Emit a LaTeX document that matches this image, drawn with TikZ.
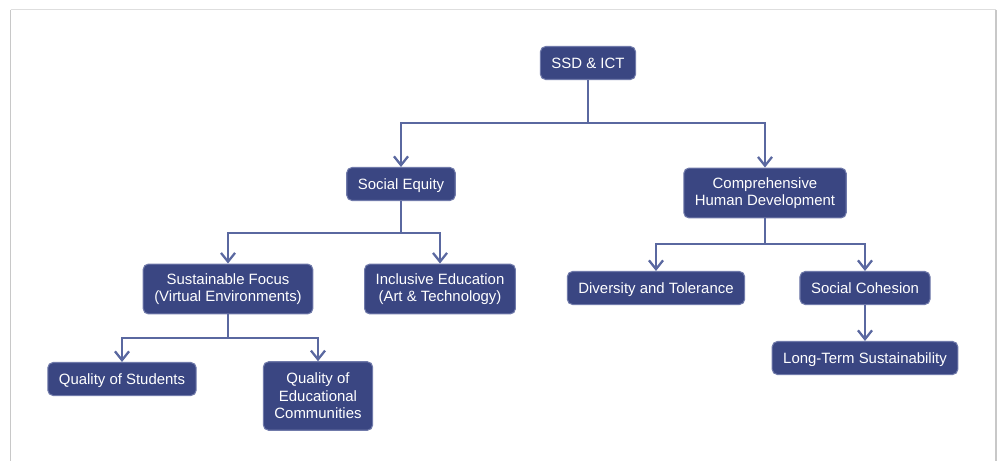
\documentclass[tikz,border=0pt]{standalone}
\usepackage{fontspec}
\setmainfont{Liberation Sans}
\usetikzlibrary{arrows.meta, positioning}

\definecolor{boxfill}{RGB}{58,70,130}
\definecolor{boxline}{RGB}{112,122,170}
\definecolor{connline}{RGB}{90,104,160}
\definecolor{framegray}{RGB}{200,200,200}

\tikzset{
    topic/.style={draw=boxline, line width=0.6pt, fill=boxfill, text=white, rounded corners=3pt,
        align=center, inner xsep=6.3pt, inner ysep=2pt, minimum height=18.8pt,
        font=\fontsize{8.5}{10}\selectfont},
    oneline/.style={text height=6.1pt, text depth=0pt},
    conn/.style={draw=connline, line width=1.3pt, -{Straight Barb[length=5pt,width=8pt]}}
}

\begin{document}
\begin{tikzpicture}[x=0.02cm, y=-0.02cm]
    \useasboundingbox (0,0) rectangle (1000,461);
    % frame
    \draw[framegray!60, line width=0.6pt] (10.5,9.5) -- (996,9.5);
    \draw[framegray, line width=0.8pt] (10.5,9.5) -- (10.5,461);
    \draw[framegray, line width=0.8pt] (996,9.5) -- (996,461);

    % top
    \node[topic, oneline] (ssd) at (588,63) {SSD \& ICT};

    % second level
    \node[topic, oneline] (equity) at (401,184) {Social Equity};
    \node[topic, minimum height=28.4pt] (human) at (765,193) {Comprehensive\\Human Development};

    % third level
    \node[topic, minimum height=28.4pt] (focus) at (228,289) {Sustainable Focus\\(Virtual Environments)};
    \node[topic, minimum height=28.4pt] (incl) at (440,289) {Inclusive Education\\(Art \& Technology)};
    \node[topic, oneline] (divers) at (656,288) {Diversity and Tolerance};
    \node[topic, oneline] (cohes) at (865,288) {Social Cohesion};

    % fourth level
    \node[topic, oneline] (qstud) at (122,379) {Quality of Students};
    \node[topic, minimum height=39pt] (qcomm) at (318,396) {Quality of\\Educational\\Communities};
    \node[topic, oneline] (longt) at (865,358) {Long-Term Sustainability};

    % buses
    \coordinate (b1) at (588,123);
    \coordinate (b2) at (401,233);
    \coordinate (b3) at (228,338);
    \coordinate (b4) at (765,244);

    % connectors
    \draw[conn] (ssd.south) -- (b1) -| (equity.north);
    \draw[conn] (b1) -| (human.north);
    \draw[conn] (equity.south) -- (b2) -| (focus.north);
    \draw[conn] (b2) -| (incl.north);
    \draw[conn] (focus.south) -- (b3) -| (qstud.north);
    \draw[conn] (b3) -| (qcomm.north);
    \draw[conn] (human.south) -- (b4) -| (divers.north);
    \draw[conn] (b4) -| (cohes.north);
    \draw[conn] (cohes) -- (longt);
\end{tikzpicture}
\end{document}
